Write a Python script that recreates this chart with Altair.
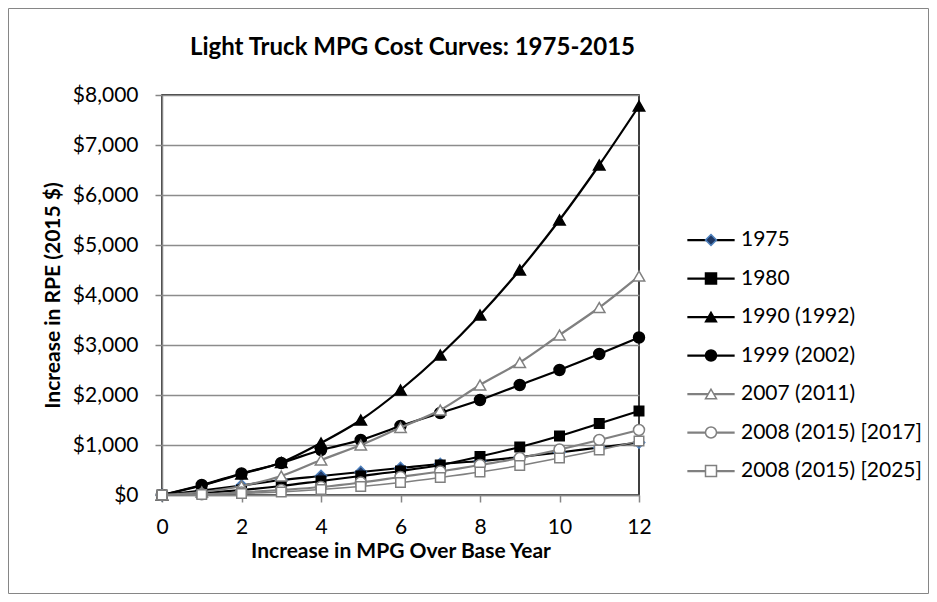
import altair as alt
import pandas as pd

# ---- data ----
title_text = "Light Truck MPG Cost Curves: 1975-2015"
mpg = list(range(13))
names = ["1975", "1980", "1990 (1992)", "1999 (2002)", "2007 (2011)",
         "2008 (2015) [2017]", "2008 (2015) [2025]"]
v1975 = [0, 90, 190, 300, 380, 460, 540, 620, 680, 760, 850, 950, 1050]
v1980 = [0, 40, 100, 180, 280, 380, 480, 600, 770, 960, 1180, 1430, 1680]
v1990 = [0, 190, 420, 650, 1040, 1500, 2100, 2800, 3600, 4500, 5500, 6600, 7780]
v1999 = [0, 200, 430, 640, 900, 1100, 1380, 1640, 1900, 2200, 2500, 2820, 3150]
v2007 = [0, 60, 180, 380, 700, 1000, 1350, 1700, 2200, 2650, 3200, 3750, 4380]
v2017 = [0, 15, 50, 100, 160, 250, 360, 470, 600, 740, 910, 1100, 1300]
v2025 = [0, 10, 30, 60, 110, 170, 250, 350, 460, 590, 740, 900, 1080]
series_values = [v1975, v1980, v1990, v1999, v2007, v2017, v2025]
x_ticks = list(range(0, 13, 2))
y_ticks = list(range(0, 8001, 1000))

# ---- styles ----
line_colors = ["#000000", "#000000", "#000000", "#000000", "#808080", "#808080", "#808080"]
line_widths = [2.25, 2.25, 2.25, 2.25, 2.25, 2.25, 1.5]
shapes = ["diamond", "square", "triangle-up", "circle", "triangle-up", "circle", "square"]
fills = ["#1F3864", "#000000", "#000000", "#000000", "#ffffff", "#ffffff", "#ffffff"]
strokes = ["#4F81BD", "#000000", "#000000", "#000000", "#808080", "#808080", "#808080"]
sizes = [130, 90, 130, 120, 130, 120, 90]
marker_names = [n + " " for n in names]

rows = []
for n, vals in zip(names, series_values):
    for xv, yv in zip(mpg, vals):
        rows.append({"mpg": xv, "cost": yv, "series": n, "marker": n + " "})
df = pd.DataFrame(rows)

FONT = "Lato"

x_enc = alt.X("mpg:Q", scale=alt.Scale(domain=[0, 12], nice=False),
              axis=alt.Axis(values=x_ticks, title="Increase in MPG Over Base Year",
                            grid=False, labelPadding=14, titleY=56,
                            titleBaseline="middle", labelFlush=False,
                            labelOverlap=False))
y_enc = alt.Y("cost:Q", scale=alt.Scale(domain=[0, 8000], nice=False),
              axis=alt.Axis(values=y_ticks, format="$,.0f",
                            title="Increase in RPE (2015 $)", grid=True,
                            labelPadding=17, titleX=-109, titleY=200,
                            titleBaseline="middle", labelFlush=False,
                            labelOverlap=False))

legend_common = dict(title=None, orient="none", legendX=538.5, legendY=134.5,
                     direction="vertical", symbolSize=121, labelFont=FONT,
                     labelFontSize=21, labelColor="#000000", labelOffset=19.5,
                     rowPadding=16.5, padding=0, symbolOffset=0,
                     symbolOpacity=1, labelLimit=400)

legend_lines = alt.Legend(symbolType="M-4.3,0H4.3", symbolStrokeWidth=2.25,
                          **legend_common)
legend_marks = alt.Legend(symbolStrokeWidth=1.5, labelOpacity=0, **legend_common)

color_enc = alt.Color("series:N", scale=alt.Scale(domain=names, range=line_colors),
                      legend=legend_lines)
fill_enc = alt.Fill("marker:N", scale=alt.Scale(domain=marker_names, range=fills),
                    legend=legend_marks)
stroke_enc = alt.Stroke("marker:N", scale=alt.Scale(domain=marker_names, range=strokes),
                        legend=legend_marks)
shape_enc = alt.Shape("marker:N", scale=alt.Scale(domain=marker_names, range=shapes),
                      legend=legend_marks)

one = pd.DataFrame({"k": [0]})
frame = alt.Chart(one).mark_rect(
    fill="transparent", stroke="#868686", strokeWidth=1
).encode(x=alt.value(-153.5), x2=alt.value(766.5),
         y=alt.value(-86.5), y2=alt.value(498.5))

title_mark = alt.Chart(one).mark_text(
    text=title_text, font=FONT, fontSize=24, fontWeight="bold", color="#000000",
    align="center", baseline="alphabetic"
).encode(x=alt.value(250.5), y=alt.value(-40))

layers = [frame, title_mark]
for n, w, s in zip(names, line_widths, sizes):
    base = alt.Chart(df).transform_filter(alt.datum.series == n)
    line = base.mark_line(interpolate="monotone", strokeWidth=w).encode(
        x=x_enc, y=y_enc, color=color_enc)
    pts = base.mark_point(opacity=1, strokeWidth=1.5, size=s).encode(
        x=x_enc, y=y_enc, fill=fill_enc, stroke=stroke_enc, shape=shape_enc)
    layers += [line, pts]

chart = alt.layer(*layers).properties(
    width=477, height=400,
    padding={"left": 154, "top": 87, "right": 290, "bottom": 99},
    autosize=alt.AutoSizeParams(type="none"),
).configure_view(
    stroke="#000000", strokeWidth=1.5
).configure_axis(
    domainColor="#868686", domainWidth=1.5, tickColor="#868686", tickWidth=1.5,
    tickSize=7, labelFont=FONT, labelFontSize=21, labelColor="#000000",
    titleFont=FONT, titleFontSize=21, titleFontWeight="bold", titleColor="#000000",
    gridColor="#8c8c8c", gridWidth=1.5
)

chart.save("out.html", embed_options={"renderer": "svg", "actions": False})
